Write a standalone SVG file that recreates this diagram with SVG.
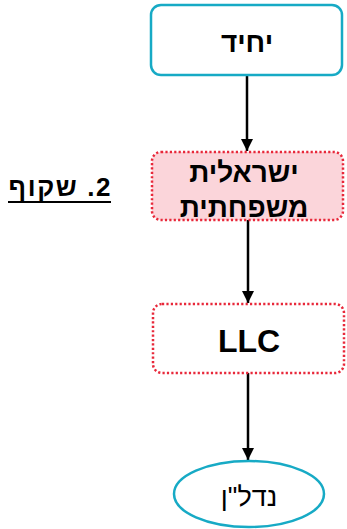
<svg xmlns="http://www.w3.org/2000/svg" width="347" height="529" viewBox="0 0 347 529">
<style>
.t{font-family:"Liberation Sans",Arial,sans-serif;fill:#000;text-anchor:middle}
.b{font-weight:bold}
.cy{fill:#fff;stroke:#17aac5;stroke-width:2.5}
.dot{stroke:#e8283a;stroke-width:2.5;stroke-dasharray:2.2 2.2}
.ln{stroke:#000;stroke-width:2.5;fill:none}
</style>
<defs>
<marker id="ah" markerWidth="12" markerHeight="12" refX="10" refY="5" orient="auto" markerUnits="userSpaceOnUse" viewBox="0 0 10 10">
<path d="M0,0 L10,5 L0,10 z" fill="#000"/>
</marker>
</defs>
<g id="connectors">
<line class="ln" x1="247" y1="75" x2="247" y2="151" marker-end="url(#ah)"/>
<line class="ln" x1="248" y1="220" x2="248" y2="303" marker-end="url(#ah)"/>
<line class="ln" x1="248" y1="373" x2="248" y2="460" marker-end="url(#ah)"/>
</g>
<g id="node-yachid">
<rect class="cy" x="151" y="5" width="191" height="70" rx="10"/>
<text class="t b" x="247" y="52" font-size="28">יחיד</text>
</g>
<g id="node-israelit">
<rect class="dot" x="152" y="152" width="191" height="68" rx="9" fill="#fbd5da"/>
<text class="t b" x="244" y="182" font-size="28">ישראלית</text>
<text class="t b" x="244" y="217" font-size="28">משפחתית</text>
</g>
<g id="node-llc">
<rect class="dot" x="153" y="304" width="191" height="69" rx="9" fill="#fff"/>
<text class="t b" x="249" y="352" font-size="32">LLC</text>
</g>
<g id="node-nadlan">
<ellipse class="cy" cx="249" cy="494" rx="75" ry="33"/>
<text class="t" x="249" y="506" font-size="27">נדל"ן</text>
</g>
<g id="label">
<text class="t b" x="59.5" y="196" font-size="26" direction="rtl" textLength="102" lengthAdjust="spacing">2. שקוף</text>
<line x1="8" y1="202" x2="111" y2="202" stroke="#000" stroke-width="2"/>
</g>
</svg>
